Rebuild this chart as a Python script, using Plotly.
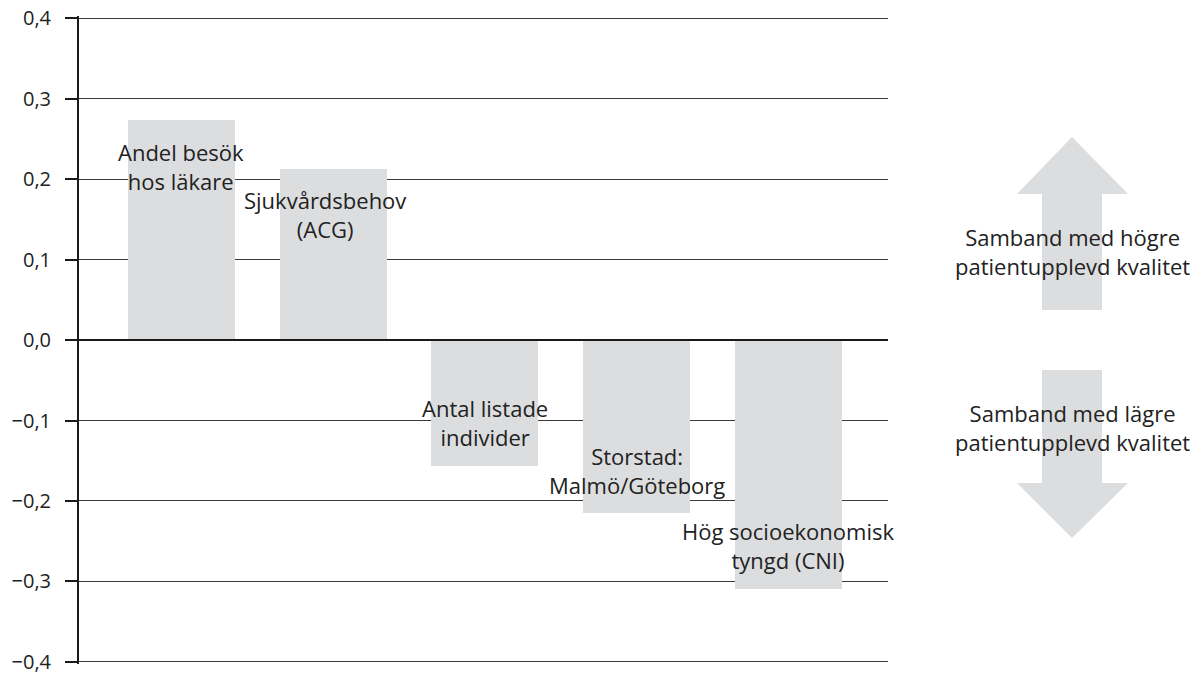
import plotly.graph_objects as go

# ---- data ----
categories = ["Andel besök hos läkare", "Sjukvårdsbehov (ACG)", "Antal listade individer",
              "Storstad: Malmö/Göteborg", "Hög socioekonomisk tyngd (CNI)"]
bar_labels = ["Andel besök<br>hos läkare", "Sjukvårdsbehov<br>(ACG)", "Antal listade<br>individer",
              "Storstad:<br>Malmö/Göteborg", "Hög socioekonomisk<br>tyngd (CNI)"]
values = [0.273, 0.213, -0.156, -0.215, -0.309]
y_ticks = [-0.4, -0.3, -0.2, -0.1, 0.0, 0.1, 0.2, 0.3, 0.4]
arrow_texts = ["Samband med högre<br>patientupplevd kvalitet",
               "Samband med lägre<br>patientupplevd kvalitet"]

W, H = 1203, 674
L, R, T, B = 79, 888, 16, 664
YR = 0.4025
FONT = "Open Sans"
FS = 22
BAR = "#dcdddf"
TXT = "#222222"

xs = list(range(len(categories)))

fig = go.Figure()
fig.add_trace(go.Bar(x=xs, y=values, width=0.705, marker=dict(color=BAR, line=dict(width=0)),
                     hoverinfo="skip", showlegend=False))

# labels inside bars
x_adj = [0, -8, 0, 0, 0]
for i, v in enumerate(values):
    fig.add_annotation(x=i, y=v, xref="x", yref="y", text=bar_labels[i], showarrow=False,
                       xanchor="center", yanchor="middle",
                       yshift=-46 if v > 0 else 43, xshift=x_adj[i],
                       font=dict(family=FONT, size=FS, color=TXT), align="center")


def px(x):
    return (x - L) / (R - L)


def py(y):
    return (B - y) / (B - T)


def path(pts):
    return "M " + " L ".join(f"{px(a):.5f},{py(b):.5f}" for a, b in pts) + " Z"


up = [(1072, 137), (1128, 194), (1102, 194), (1102, 310), (1042, 310), (1042, 194), (1017, 194)]
down = [(1072, 538), (1128, 483), (1102, 483), (1102, 370), (1042, 370), (1042, 483), (1017, 483)]
for pts in (up, down):
    fig.add_shape(type="path", path=path(pts), xref="paper", yref="paper",
                  fillcolor=BAR, line=dict(width=0), layer="below")

for txt, yy in zip(arrow_texts, [252, 427.5]):
    fig.add_annotation(x=px(1072), y=py(yy), xref="paper", yref="paper", text=txt,
                       xanchor="center", yanchor="middle", align="center",
                       showarrow=False, font=dict(family=FONT, size=FS, color=TXT))

# zero line above bars
fig.add_shape(type="line", xref="paper", yref="y", x0=0, x1=1, y0=0, y1=0,
              line=dict(color="#1a1a1a", width=2), layer="above")

fig.update_layout(
    width=W, height=H,
    margin=dict(l=L, r=W - R, t=T, b=H - B, pad=0, autoexpand=False),
    paper_bgcolor="white", plot_bgcolor="white",
    separators=",.",
    font=dict(family=FONT, size=20, color=TXT),
    xaxis=dict(range=[-0.675, 4.656], showticklabels=False, showgrid=False, zeroline=False,
               showline=False, ticks=""),
    yaxis=dict(range=[-YR, YR], tickvals=y_ticks, tickformat=".1f",
               showgrid=True, gridcolor="#3a3a3a", gridwidth=1, zeroline=False,
               showline=True, linecolor="#1a1a1a", linewidth=2,
               ticks="outside", ticklen=12, tickwidth=1.5, tickcolor="#1a1a1a",
               ticklabelstandoff=10, ticklabeloverflow="allow",
               tickfont=dict(family=FONT, size=20, color=TXT)),
    bargap=0,
)

fig.write_html("out.html", config={"displayModeBar": False},
               post_script="document.body.style.margin='0';")
